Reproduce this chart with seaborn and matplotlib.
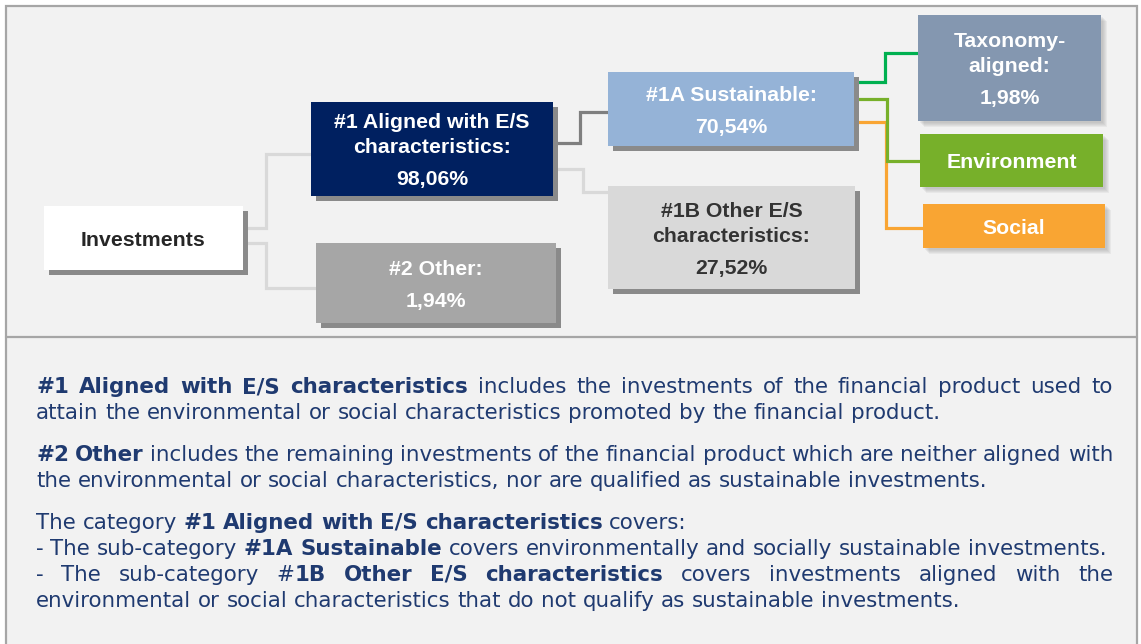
import matplotlib
matplotlib.use('Agg')
import matplotlib.pyplot as plt
from matplotlib.patches import Rectangle
import seaborn as sns

# allocation tree: names, shares (%), parent index
node_names = ['Investments', '#1 Aligned with E/S\ncharacteristics:', '#2 Other:',
              '#1A Sustainable:', '#1B Other E/S\ncharacteristics:',
              'Taxonomy-\naligned:', 'Environment', 'Social']
node_shares = [None, 98.06, 1.94, 70.54, 27.52, 1.98, None, None]
node_parents = [None, 0, 0, 1, 1, 3, 3, 3]

# explanation text, one list of (text, bold) pieces per line
para_1 = [
    [('#1 Aligned with E/S characteristics', True),
     (' includes the investments of the financial product used to', False)],
    [('attain the environmental or social characteristics promoted by the financial product.', False)],
]
para_2 = [
    [('#2 Other', True),
     (' includes the remaining investments of the financial product which are neither aligned with', False)],
    [('the environmental or social characteristics, nor are qualified as sustainable investments.', False)],
]
para_3 = [
    [('The category ', False), ('#1 Aligned with E/S characteristics', True), (' covers:', False)],
    [('- The sub-category ', False), ('#1A Sustainable', True),
     (' covers environmentally and socially sustainable investments.', False)],
    [('- The sub-category #', False), ('1B Other E/S characteristics', True),
     (' covers investments aligned with the', False)],
    [('environmental or social characteristics that do not qualify as sustainable investments.', False)],
]

# ---- layout / styling (pixels) ----
box_rects = [(44, 206, 243, 270), (311, 102, 553, 196), (316, 243, 556, 323),
             (608, 72, 854, 146), (608, 186, 855, 289), (918, 15, 1101, 121),
             (920, 134, 1103, 187), (923, 204, 1105, 248)]
box_fill = ['#ffffff', '#002060', '#a6a6a6', '#95b3d7', '#d9d9d9', '#8497b0', '#77b02a', '#f9a533']
box_text = ['#262626', 'white', 'white', 'white', '#333333', 'white', 'white', 'white']
box_soft = [False, False, False, False, False, True, True, True]
# connector: start y on parent, x of the elbow, end y on child, colour
links = {1: (228, 266, 154, '#d9d9d9'), 2: (243, 266, 288, '#d9d9d9'),
         3: (143, 580, 112, '#7f7f7f'), 4: (169, 583, 192, '#d9d9d9'),
         7: (122, 886, 228, '#f9a533'), 6: (99, 887, 161, '#77b02a'),
         5: (82, 885, 53, '#00b050')}
text_baselines = [[393, 419], [461, 487], [529, 555, 581, 607]]
justified = [[True, False], [True, False], [False, False, True, False]]
text_left, text_right = 36, 1113
text_color = '#1f3a70'

sns.set_style('white')
plt.rcParams['font.family'] = ['Liberation Sans', 'DejaVu Sans']

fig = plt.figure(figsize=(11.41, 6.44), dpi=100)
ax = fig.add_axes([0, 0, 1, 1])
ax.set_xlim(0, 1141)
ax.set_ylim(644, 0)
ax.axis('off')

# panels
ax.add_patch(Rectangle((6, 6), 1131, 660, facecolor='#f2f2f2', edgecolor='#a6a6a6', lw=1.6, zorder=0))
ax.plot([6, 1137], [337, 337], color='#a6a6a6', lw=1.6, zorder=1)

# connectors
for child, (ys, xm, ye, col) in links.items():
    x0 = box_rects[node_parents[child]][2]
    x1 = box_rects[child][0]
    ax.plot([x0, xm, xm, x1], [ys, ys, ye, ye], color=col, lw=2.3,
            solid_joinstyle='miter', zorder=2)

# boxes
for i, name in enumerate(node_names):
    x0, y0, x1, y1 = box_rects[i]
    w, h = x1 - x0, y1 - y0
    if box_soft[i]:
        for k in range(5):
            ax.add_patch(Rectangle((x0 + 2 + k, y0 + 2 + k), w, h, facecolor='#7f7f7f',
                                   alpha=0.09, lw=0, zorder=3))
    else:
        ax.add_patch(Rectangle((x0 + 5, y0 + 5), w, h, facecolor='#8a8a8a', lw=0, zorder=3))
    ax.add_patch(Rectangle((x0, y0), w, h, facecolor=box_fill[i], lw=0, zorder=4))

    lines = name.split('\n')
    ys = [25 * j for j in range(len(lines))]
    if node_shares[i] is not None:
        lines.append(f'{node_shares[i]:.2f}%'.replace('.', ','))
        ys.append(ys[-1] + 32)
    off = (y0 + y1) / 2 + 2 - (ys[0] + ys[-1]) / 2
    for line, yy in zip(lines, ys):
        ax.text((x0 + x1) / 2, yy + off, line, ha='center', va='center',
                fontsize=15.3, fontweight='bold', color=box_text[i], zorder=5)

# explanation paragraphs, laid out word by word
renderer = fig.canvas.get_renderer()
body_font = dict(family='DejaVu Sans', fontsize=15.4, color=text_color, zorder=5)


def piece_width(s, bold):
    t = ax.text(0, 0, s, fontweight='bold' if bold else 'normal', **body_font)
    w = t.get_window_extent(renderer).width
    t.remove()
    return w


space_w = piece_width('a a', False) - piece_width('aa', False)

for para, bases, justs in zip([para_1, para_2, para_3], text_baselines, justified):
    for line, base, just in zip(para, bases, justs):
        words = [[]]
        for s, bold in line:
            for j, p in enumerate(s.split(' ')):
                if j > 0:
                    words.append([])
                if p:
                    words[-1].append((p, bold))
        words = [wd for wd in words if wd]
        widths = [[piece_width(p, b) for p, b in wd] for wd in words]
        total = sum(sum(ws) for ws in widths)
        gap = space_w
        if just or total + space_w * (len(words) - 1) > text_right - text_left:
            gap = (text_right - text_left - total) / (len(words) - 1)
        x = text_left
        for wd, ws in zip(words, widths):
            for (p, b), pw in zip(wd, ws):
                ax.text(x, base, p, ha='left', va='baseline',
                        fontweight='bold' if b else 'normal', **body_font)
                x += pw
            x += gap

fig.savefig('out.png', dpi=100)
